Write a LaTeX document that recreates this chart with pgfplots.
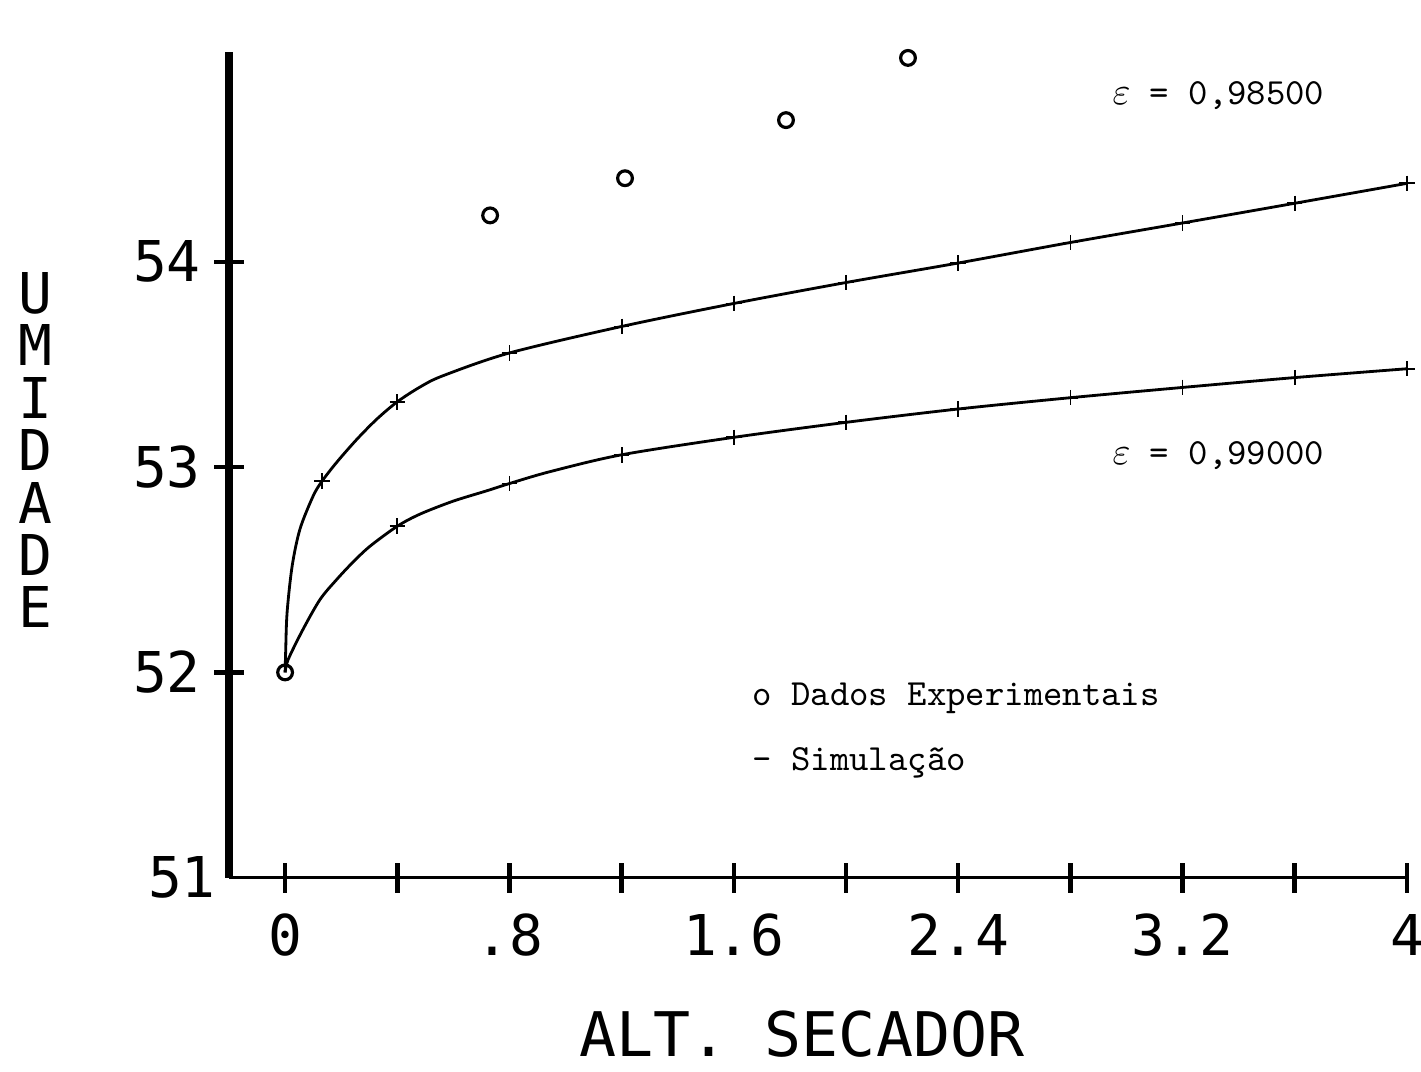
\documentclass[border=0pt]{standalone}
\usepackage{fontspec}
\usepackage{pgfplots}
\pgfplotsset{compat=1.18}
\usetikzlibrary{calc}
\newfontfamily\plotfont{DejaVu Sans Mono}

% Experimental points
\pgfplotstableread{
x y
0 52.0
0.731 54.226
1.212 54.407
1.786 54.690
2.221 54.993
}\dados

% Simulation, epsilon = 0.985
\pgfplotstableread{
x y
0 52.0
0.002 52.10
0.007 52.29
0.025 52.517
0.053 52.698
0.100 52.859
0.132 52.932
0.185 53.025
0.257 53.137
0.328 53.235
0.4 53.318
0.481 53.39
0.563 53.445
0.8 53.556
1.2 53.685
1.6 53.797
2.0 53.899
2.4 53.994
2.8 54.094
3.2 54.189
3.6 54.285
4.0 54.382
}\simA

% Simulation, epsilon = 0.990
\pgfplotstableread{
x y
0 52.0
0.011 52.063
0.064 52.210
0.125 52.356
0.185 52.454
0.242 52.537
0.303 52.615
0.4 52.712
0.481 52.771
0.599 52.834
0.720 52.885
0.8 52.92
0.945 52.978
1.2 53.06
1.6 53.145
2.0 53.218
2.4 53.283
2.8 53.338
3.2 53.388
3.6 53.436
4.0 53.479
}\simB

\begin{document}
\begin{tikzpicture}
\begin{axis}[
  name=ax,
  scale only axis,
  width=335.1pt, height=234.8pt,
  xmin=-0.2, xmax=4, ymin=51, ymax=55.02,
  axis x line=bottom, axis y line=left,
  x axis line style={line width=0.9pt,-},
  y axis line style={line width=2.4pt,-},
  tick align=center,
  major tick length=8.5pt,
  tick style={line width=1.3pt, black},
  xtick={0,0.4,0.8,1.2,1.6,2.0,2.4,2.8,3.2,3.6,4.0},
  xticklabels={0,,.8,,1.6,,2.4,,3.2,,4},
  ytick={52,53,54},
  yticklabels={52,53,54},
  extra y ticks={51},
  extra y tick labels={51},
  extra y tick style={major tick length=0pt},
  xticklabel style={font=\plotfont\fontsize{16}{16}\selectfont, anchor=center, yshift=-12pt},
  yticklabel style={font=\plotfont\fontsize{16}{16}\selectfont, anchor=center, xshift=-13.4pt},
  clip=false,
]
\addplot[black, line width=0.8pt, smooth, tension=0.5] table {\simA};
\addplot[black, only marks, mark=+, mark size=2.2pt, mark options={line width=0.5pt}] table[x=x,y=y] {
x y
0.132 52.932
0.4 53.318
0.8 53.556
1.2 53.685
1.6 53.797
2.0 53.899
2.4 53.994
2.8 54.094
3.2 54.189
3.6 54.285
4.0 54.382
};
\addplot[black, line width=0.8pt, smooth, tension=0.5] table {\simB};
\addplot[black, only marks, mark=+, mark size=2.2pt, mark options={line width=0.5pt}] table[x=x,y=y] {
x y
0.4 52.712
0.8 52.92
1.2 53.06
1.6 53.145
2.0 53.218
2.4 53.283
2.8 53.338
3.2 53.388
3.6 53.436
4.0 53.479
};
\addplot[black, only marks, mark=o, mark size=2.1pt, mark options={line width=0.9pt}] table {\dados};

\node[anchor=base west, inner sep=0pt, font=\ttfamily\fontsize{10.5}{12}\selectfont] at (axis cs:2.948,54.768) {$\varepsilon$ = 0,98500};
\node[anchor=base west, inner sep=0pt, font=\ttfamily\fontsize{10.5}{12}\selectfont] at (axis cs:2.948,53.015) {$\varepsilon$ = 0,99000};
\node[anchor=base west, inner sep=0pt, font=\ttfamily\fontsize{10.5}{12}\selectfont] at (axis cs:1.665,51.838) {o Dados Experimentais};
\node[anchor=base west, inner sep=0pt, font=\ttfamily\fontsize{10.5}{12}\selectfont] at (axis cs:1.665,51.521) {- Simulação};
\end{axis}

% axis titles
\node[anchor=center, inner sep=1pt, font=\plotfont\fontsize{17.5}{17.5}\selectfont]
  at ($(ax.south west)!0.4864!(ax.south east)+(0,-44.5pt)$) {ALT. SECADOR};
\node[anchor=center, align=center, font=\plotfont\fontsize{16}{14.9}\selectfont]
  at ($(ax.south west)!0.518!(ax.north west)+(-55.2pt,0)$) {U\\M\\I\\D\\A\\D\\E};

\pgfresetboundingbox
\path ($(ax.south west)+(-65.15pt,-55pt)$) rectangle ($(ax.north east)+(4pt,14.9pt)$);
\end{tikzpicture}
\end{document}
